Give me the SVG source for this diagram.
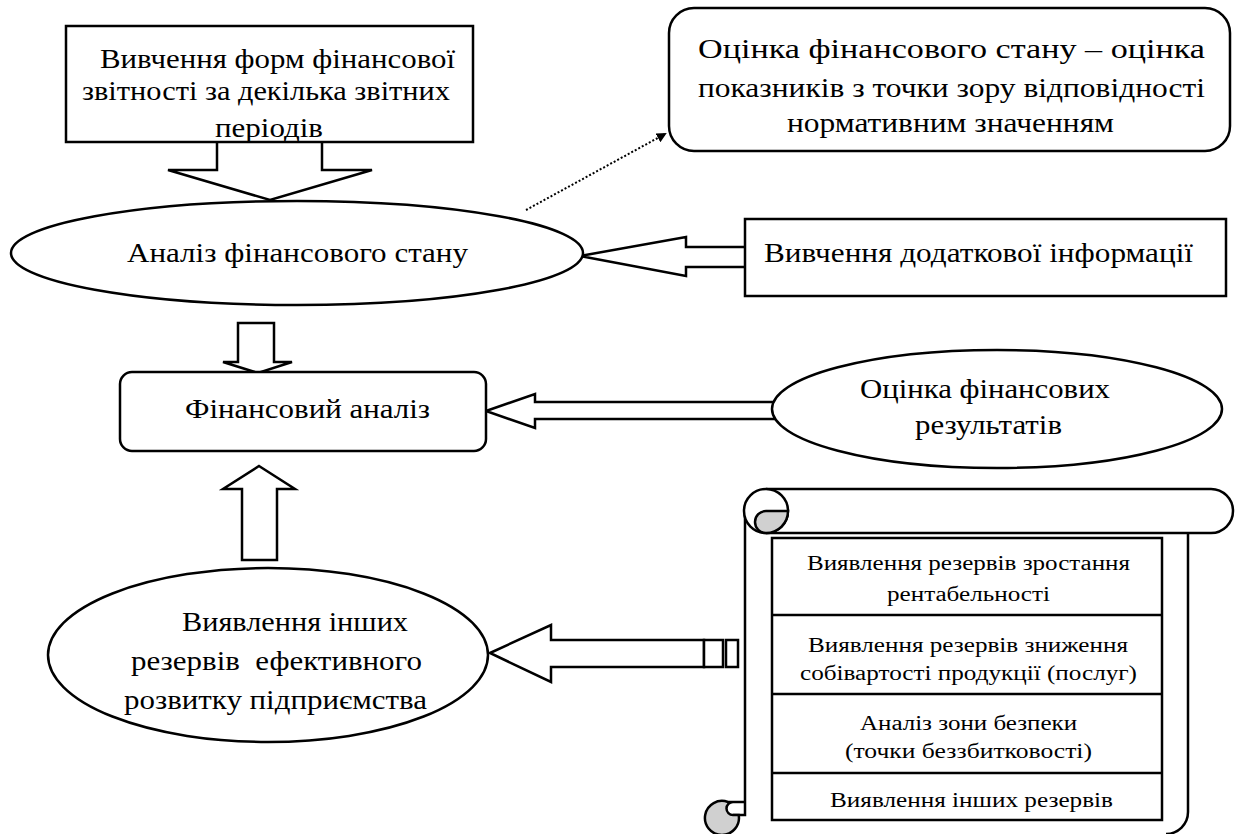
<svg xmlns="http://www.w3.org/2000/svg" width="1240" height="834" viewBox="0 0 1240 834">
<style>
.s{fill:#fff;stroke:#000;stroke-width:2.5;stroke-linejoin:miter}
.ln{fill:none;stroke:#000;stroke-width:2.5}
.t{font-family:'Liberation Serif','DejaVu Serif','Times New Roman',serif;font-size:27px;fill:#000}
.ts{font-family:'Liberation Serif','DejaVu Serif','Times New Roman',serif;font-size:20px;fill:#000}
</style>
<defs>
<marker id="ah" markerWidth="10" markerHeight="10" refX="8" refY="5" orient="auto" markerUnits="userSpaceOnUse">
<path d="M0,0 L10,5 L0,10 Z" fill="#000"/>
</marker>
</defs>
<rect width="1240" height="834" fill="#fff"/>
<g id="connectors">
<polygon class="s" points="217,140 217,170 168,170 270,200 372,170 322,170 322,140"/>
<line x1="526" y1="210" x2="665" y2="134" stroke="#000" stroke-width="2" stroke-dasharray="2,2" marker-end="url(#ah)"/>
<polygon class="s" points="580,256 686,237 686,247 748,247 748,267 686,267 686,276"/>
<polygon class="s" points="238,323 274,323 274,362 292,362 258,373 223,362 238,362"/>
<polygon class="s" points="486,411 535,394 535,402 780,402 780,419 535,419 535,428"/>
<polygon class="s" points="259,466 295,489 277,489 277,560 242,560 242,489 223,489"/>
<polygon class="s" points="490,653 551,625 551,640 704,640 704,667 551,667 551,682"/>
<rect class="s" x="704" y="640" width="19" height="27"/>
<rect class="s" x="726" y="640" width="12" height="27"/>
</g>
<g id="node-forms">
<rect class="s" x="66" y="26" width="407" height="116"/>
<text class="t" font-family="Liberation Serif" x="100" y="68" textLength="355" lengthAdjust="spacingAndGlyphs">Вивчення форм фінансової</text>
<text class="t" font-family="Liberation Serif" x="82" y="100" textLength="368" lengthAdjust="spacingAndGlyphs">звітності за декілька звітних</text>
<text class="t" font-family="Liberation Serif" x="215" y="137" textLength="108" lengthAdjust="spacingAndGlyphs">періодів</text>
</g>
<g id="node-analysis-state">
<ellipse class="s" cx="297" cy="253" rx="286" ry="52"/>
<text class="t" x="127" y="262" textLength="341" lengthAdjust="spacingAndGlyphs">Аналіз фінансового стану</text>
</g>
<g id="node-assessment">
<rect class="s" x="669" y="8" width="561" height="143" rx="25" ry="25"/>
<text class="t" x="698" y="58" textLength="507" lengthAdjust="spacingAndGlyphs">Оцінка фінансового стану – оцінка</text>
<text class="t" x="698" y="97" textLength="507" lengthAdjust="spacingAndGlyphs">показників з точки зору відповідності</text>
<text class="t" x="787" y="132" textLength="327" lengthAdjust="spacingAndGlyphs">нормативним значенням</text>
</g>
<g id="node-additional">
<rect class="s" x="745" y="219" width="481" height="77"/>
<text class="t" x="764" y="262" textLength="429" lengthAdjust="spacingAndGlyphs">Вивчення додаткової інформації</text>
</g>
<g id="node-financial-analysis">
<rect class="s" x="120" y="372" width="366" height="79" rx="12" ry="12"/>
<text class="t" x="185" y="418" textLength="245" lengthAdjust="spacingAndGlyphs">Фінансовий аналіз</text>
</g>
<g id="node-results">
<ellipse class="s" cx="997" cy="409" rx="225" ry="59"/>
<text class="t" x="860" y="398" textLength="250" lengthAdjust="spacingAndGlyphs">Оцінка фінансових</text>
<text class="t" x="915" y="434" textLength="147" lengthAdjust="spacingAndGlyphs">результатів</text>
</g>
<g id="node-other-reserves">
<ellipse class="s" cx="268" cy="655" rx="220" ry="87"/>
<text class="t" x="182" y="631" textLength="226" lengthAdjust="spacingAndGlyphs">Виявлення інших</text>
<text class="t" x="131" y="670" textLength="291" lengthAdjust="spacingAndGlyphs" xml:space="preserve">резервів  ефективного</text>
<text class="t" x="124" y="709" textLength="303" lengthAdjust="spacingAndGlyphs">розвитку підприємства</text>
</g>
<g id="node-scroll">
<path d="M766,489 H1211 A22,22 0 0 1 1211,533 H1188 V812 A22,22 0 0 1 1166,834 H745 V511 Z" fill="#fff"/>
<path class="ln" d="M766,489 H1211 A22,22 0 0 1 1211,533 H766"/>
<path class="ln" d="M1188,533 V812 A22,22 0 0 1 1166,834"/>
<path class="ln" d="M745,511 V815 H733 M745,802 H733"/>
<circle class="s" cx="766" cy="511" r="22"/>
<path d="M788,511 H766 A11,11 0 0 0 766,533 A22,22 0 0 0 788,511 Z" fill="#d0d0d0" stroke="#000" stroke-width="2.5"/>
<path d="M728,802 A17,17 0 1 0 738.7,815 L733,815 A6.5,6.5 0 0 1 733,802 Z" fill="#d0d0d0" stroke="#000" stroke-width="2.5"/>
<rect class="s" x="772" y="538" width="390" height="282"/>
<line class="ln" x1="772" y1="615" x2="1162" y2="615"/>
<line class="ln" x1="772" y1="694" x2="1162" y2="694"/>
<line class="ln" x1="772" y1="773" x2="1162" y2="773"/>
<text class="ts" x="807" y="570" textLength="323" lengthAdjust="spacingAndGlyphs">Виявлення резервів зростання</text>
<text class="ts" x="887" y="601" textLength="163" lengthAdjust="spacingAndGlyphs">рентабельності</text>
<text class="ts" x="808" y="652" textLength="320" lengthAdjust="spacingAndGlyphs">Виявлення резервів зниження</text>
<text class="ts" x="800" y="680" textLength="337" lengthAdjust="spacingAndGlyphs">собівартості продукції (послуг)</text>
<text class="ts" x="860" y="730" textLength="217" lengthAdjust="spacingAndGlyphs">Аналіз зони безпеки</text>
<text class="ts" x="845" y="758" textLength="247" lengthAdjust="spacingAndGlyphs">(точки беззбитковості)</text>
<text class="ts" x="830" y="807" textLength="283" lengthAdjust="spacingAndGlyphs">Виявлення інших резервів</text>
</g>
</svg>
